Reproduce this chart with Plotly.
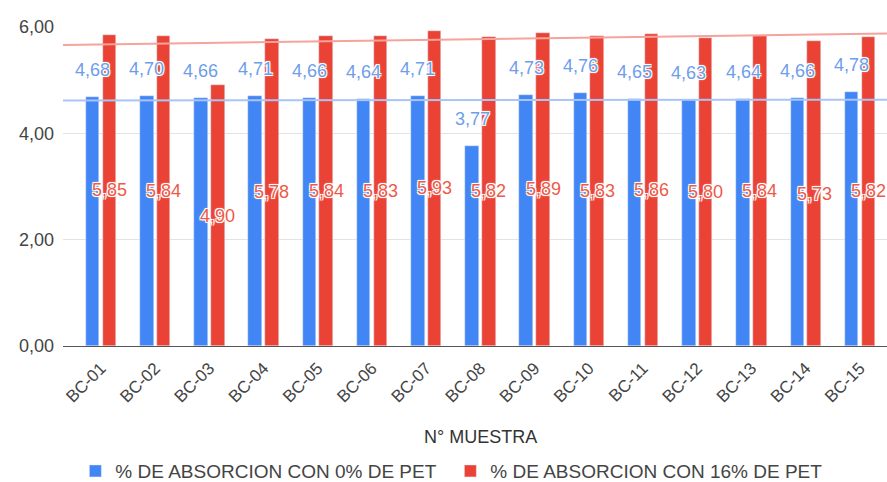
import numpy as np
import plotly.graph_objects as go

categories = ["BC-01", "BC-02", "BC-03", "BC-04", "BC-05", "BC-06", "BC-07", "BC-08",
              "BC-09", "BC-10", "BC-11", "BC-12", "BC-13", "BC-14", "BC-15"]
pet0 = [4.68, 4.70, 4.66, 4.71, 4.66, 4.64, 4.71, 3.77, 4.73, 4.76, 4.65, 4.63, 4.64, 4.66, 4.78]
pet16 = [5.85, 5.84, 4.90, 5.78, 5.84, 5.83, 5.93, 5.82, 5.89, 5.83, 5.86, 5.80, 5.84, 5.73, 5.82]
name0 = "% DE ABSORCION CON 0% DE PET"
name16 = "% DE ABSORCION CON 16% DE PET"
yticks = [0, 2, 4, 6]

BLUE = "#4285f4"
RED = "#ea4335"
FONT = "Liberation Sans, Arial, sans-serif"

xi = np.arange(len(categories))
OFF = 0.155
W = 0.25

fig = go.Figure()
fig.add_trace(go.Bar(x=xi - OFF, y=pet0, width=W, marker_color=BLUE, name=name0))
fig.add_trace(go.Bar(x=xi + OFF, y=pet16, width=W, marker_color=RED, name=name16))

# linear trendlines
xr = np.array([-0.7, 14.5])
for vals, col in [(pet0, "#a9c5f7"), (pet16, "#f5a39b")]:
    m, b = np.polyfit(xi, vals, 1)
    fig.add_trace(go.Scatter(x=xr, y=m * xr + b, mode="lines",
                             line=dict(color=col, width=2), showlegend=False,
                             hoverinfo="skip"))

halo = "1px 1px 0 #fff, -1px -1px 0 #fff, 1px -1px 0 #fff, -1px 1px 0 #fff, 0 0 3px #fff"
ann = []
for i, v in enumerate(pet0):
    ann.append(dict(x=i - OFF, y=v, xref="x", yref="y", yshift=27, showarrow=False,
                    yanchor="middle",
                    text=f"{v:.2f}".replace(".", ","),
                    font=dict(family=FONT, size=18, color="#6d9eeb", shadow=halo)))
for i, v in enumerate(pet16):
    ann.append(dict(x=i + OFF, y=v / 2, xref="x", yref="y", showarrow=False,
                    yanchor="middle",
                    text=f"{v:.2f}".replace(".", ","),
                    font=dict(family=FONT, size=18, color="#ee5a48", shadow=halo)))
ann.append(dict(x=0.507, y=-0.285, xref="paper", yref="paper", showarrow=False,
                yanchor="middle",
                text="N° MUESTRA", font=dict(family=FONT, size=18, color="#333")))

fig.update_layout(
    width=887, height=482,
    margin=dict(l=63, r=0, t=27, b=136, autoexpand=False),
    plot_bgcolor="white", paper_bgcolor="white",
    separators=",.",
    bargap=0, showlegend=True,
    font=dict(family=FONT, size=18, color="#444"),
    legend=dict(orientation="h", x=0.015, xanchor="left", y=-0.392, yanchor="middle",
                entrywidth=330,
                font=dict(size=19, color="#444"), itemclick=False),
    annotations=ann,
    xaxis=dict(range=[-0.7, 14.5], tickvals=list(xi), ticktext=categories,
               tickangle=-45, showgrid=False, zeroline=False, showline=False,
               automargin=False,
               ticks="", ticklabelstandoff=8, tickfont=dict(size=17, color="#444")),
    yaxis=dict(range=[0, 6], tickvals=yticks, tickformat=".2f", showgrid=True,
               gridcolor="#e3e3e3", gridwidth=1, zeroline=True, zerolinecolor="#555",
               zerolinewidth=1, ticks="", ticklabelstandoff=8, automargin=False,
               tickfont=dict(size=18, color="#444")),
)
for tr in fig.data[:2]:
    tr.update(cliponaxis=False)

fig.write_html("out.html")
